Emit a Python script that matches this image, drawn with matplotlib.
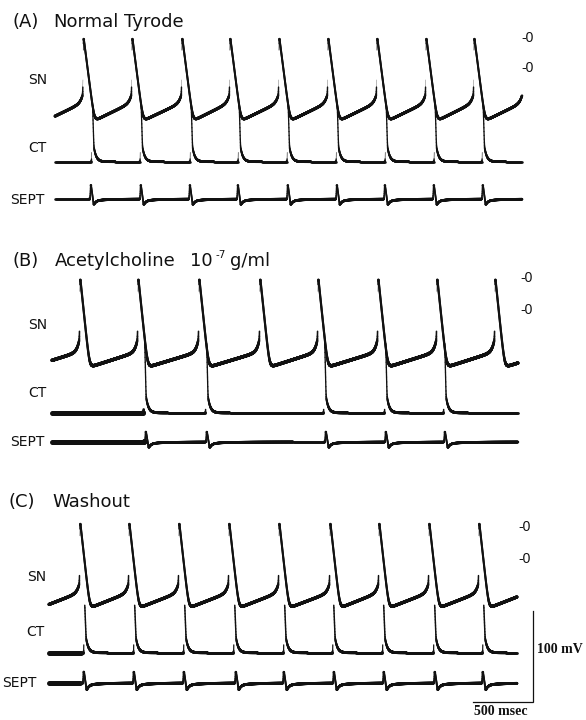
import numpy as np
import matplotlib
matplotlib.use("Agg")
import matplotlib.pyplot as plt
from matplotlib.collections import LineCollection

# ---------------- data (times in ms, potentials in mV) ----------------
PANEL_LETTERS = ["(A)", "(B)", "(C)"]
PANEL_TITLES = ["Normal Tyrode", "Acetylcholine 10 g/ml", "Washout"]
TRACE_NAMES = ["SN", "CT", "SEPT"]

A_SN_PEAKS = [236, 642, 1058, 1458, 1867, 2275, 2683, 3092, 3492]
A_CT_UPSTROKES = [307, 712, 1129, 1529, 1937, 2346, 2754, 3162, 3562]
A_SEPT_SPIKES = [292, 708, 1117, 1517, 1933, 2342, 2742, 3150, 3558]

B_SN_PEAKS = [208, 692, 1200, 1708, 2192, 2692, 3183, 3667]
B_CT_UPSTROKES = [742, 1258, 2242, 2750, 3242]
B_SEPT_SPIKES = [750, 1258, 2250, 2750, 3242]

C_SN_PEAKS = [208, 617, 1033, 1450, 1867, 2292, 2700, 3117, 3533]
C_CT_UPSTROKES = [242, 658, 1075, 1492, 1908, 2317, 2733, 3158, 3567]
C_SEPT_SPIKES = [233, 650, 1067, 1500, 1900, 2317, 2733, 3158, 3558]

TRACE_START_MS = [0, -25, -50]
TRACE_END_MS = [3892, 3858, 3850]

SN_PEAK_MV = [3, 3, 8]
SN_MDP_MV = [-91, -98, -89]
SN_KNEE_MV = [-71, -81, -72]
SN_TAKEOFF_MV = [-61, -66, -61]
SN_REPOL_MS = [92, 80, 82]

CT_REST_MV = [-103, -113, -103]
CT_PEAK_MV = [5, 5, 5]
CT_VISIBLE_FROM = [0.62, 0.70, 0.52]   # fraction of amplitude where the trace becomes visible

SEPT_UP_MV = [17.6, 13.0, 14.3]
SEPT_DOWN_MV = [6.6, 6.6, 8.0]

SCALE_MS = 500
SCALE_MV = 100

# ---------------- layout (pixels of a 586 x 720 canvas) ----------------
W, H = 586, 720
MS_PER_PX = 500 / 60.0
PX_PER_MV = 0.91
X0_PX = 55
SN_ZERO_PX = [38, 278, 527]
CT_ZERO_PX = [68, 310, 559]
SEPT_BASE_PX = [199, 442, 683]
TITLE_BASE_PX = [27, 266, 507]
LETTER_X_PX = [12.5, 12, 8]
WORD_X_PX = [[53, 124], [55, 190, 230], [52]]
LABEL_Y_PX = [[80, 148, 200], [325, 393, 442], [577, 632, 683]]
LABEL_X_PX = [[28, 28, 10], [28, 28, 10], [27, 26, 2]]
ZERO_LABEL_X_PX = [521, 520, 518]
SN_LW = [3.0, 3.4, 3.2]
CT_LW = [2.6, 2.8, 2.8]
SEPT_LW = [2.6, 2.6, 2.8]
THICK_LW = 5.0
INK = "#111111"


def smooth(v, sigma=2.0):
    n = int(4 * sigma)
    k = np.exp(-0.5 * (np.arange(-n, n + 1) / sigma) ** 2)
    k /= k.sum()
    pad = np.concatenate([np.full(n, v[0]), v, np.full(n, v[-1])])
    return np.convolve(pad, k, mode="valid")


def sn_wave(t, peaks, vpk, mdp, vknee, vto, R, k=9.0, tau=20.0, U=3.0):
    period = np.mean(np.diff(peaks))
    pk = [peaks[0] - period] + list(peaks) + [peaks[-1] + period]
    v = np.full(t.shape, mdp, dtype=float)
    for a, b in zip(pk[:-1], pk[1:]):
        tto = b - U
        m = (t >= a) & (t < tto)
        s = t[m] - a
        rep = (vpk - mdp) * k * np.log1p(np.exp((R - s) / k)) / R
        lin = (vknee - mdp) * np.clip((s - R) / (tto - a - R), 0, 1)
        knee = (vto - vknee) * np.exp((s - (tto - a)) / tau)
        v[m] = mdp + rep + lin + knee
        m2 = (t >= tto) & (t < b)
        v[m2] = vto + (vpk - vto) * (t[m2] - tto) / U
    return v


def ct_wave(t, ups, vrest, vpk, hvis, Uh=5.0, Rc=12.0, hf=0.15, tauf=20.0):
    """Returns potential and a mask of the (photographically invisible) fast part."""
    h = np.zeros(t.shape)
    hidden = np.zeros(t.shape, dtype=bool)
    for u in ups:
        s = t - u
        m1 = (s >= 0) & (s < Uh)
        h[m1] += hvis
        hidden[(s >= -1) & (s < Uh + 1)] = True
        m2 = (s >= Uh) & (s < Uh + Rc)
        h[m2] += hvis - (hvis - hf) * (s[m2] - Uh) / Rc
        m3 = s >= Uh + Rc
        h[m3] += hf * np.exp(-(s[m3] - Uh - Rc) / tauf)
    return vrest + (vpk - vrest) * h, hidden


def sept_wave(t, spikes, up, dn, Us=6.0, d1=25.0, tau1=18.0, tau2=150.0, frac=0.75):
    v = np.zeros(t.shape)
    for sp in spikes:
        s = t - sp
        m1 = (s >= 0) & (s < Us)
        v[m1] += up * s[m1] / Us
        m2 = (s >= Us) & (s < Us + d1)
        v[m2] += up - (up + dn) * (s[m2] - Us) / d1
        m3 = s >= Us + d1
        x = s[m3] - Us - d1
        v[m3] += -dn * (frac * np.exp(-x / tau1) + (1 - frac) * np.exp(-x / tau2))
    return v


def draw_trace(ax, t, v, y0, lw0, thick_until=None, hidden=None):
    xpx = t / MS_PER_PX
    ypx = v * PX_PER_MV
    speed = np.hypot(np.diff(xpx), np.diff(ypx)) / np.diff(t)
    r = speed * MS_PER_PX
    base = np.full(len(r), lw0)
    if thick_until is not None:
        base[t[:-1] < thick_until] = THICK_LW
    w = base * r ** -0.2 * np.clip((65 - r) / 20.0, 0, 1)
    if hidden is not None:
        w[hidden[:-1] | hidden[1:]] = 0
    pts = np.column_stack([t, y0 + v])
    segs = np.stack([pts[:-1], pts[1:]], axis=1)
    keep = w > 0.05
    lc = LineCollection(segs[keep], linewidths=w[keep] * 0.72, colors=INK,
                        capstyle="round", joinstyle="round")
    ax.add_collection(lc)


def px_y(p):
    return -p / PX_PER_MV


fig = plt.figure(figsize=(W / 100, H / 100), dpi=100)
ax = fig.add_axes([0, 0, 1, 1])
ax.set_xlim(-X0_PX * MS_PER_PX, (W - X0_PX) * MS_PER_PX)
ax.set_ylim(px_y(H), 0)
ax.axis("off")

sn_peaks = [A_SN_PEAKS, B_SN_PEAKS, C_SN_PEAKS]
ct_ups = [A_CT_UPSTROKES, B_CT_UPSTROKES, C_CT_UPSTROKES]
sept_spk = [A_SEPT_SPIKES, B_SEPT_SPIKES, C_SEPT_SPIKES]
thick_ct = [None, B_CT_UPSTROKES[0], C_CT_UPSTROKES[0] - 25]
thick_sept = [None, B_SEPT_SPIKES[0], C_SEPT_SPIKES[0] - 25]

title_font = dict(fontsize=13, family="DejaVu Sans", va="baseline", color=INK)

for i in range(3):
    t = np.arange(TRACE_START_MS[i], TRACE_END_MS[i] + 0.5, 1.0)
    v_sn = smooth(sn_wave(t, sn_peaks[i], SN_PEAK_MV[i], SN_MDP_MV[i], SN_KNEE_MV[i],
                          SN_TAKEOFF_MV[i], SN_REPOL_MS[i]))
    v_ct, hid = ct_wave(t, ct_ups[i], CT_REST_MV[i], CT_PEAK_MV[i], CT_VISIBLE_FROM[i])
    v_ct = smooth(v_ct, 1.5)
    v_se = smooth(sept_wave(t, sept_spk[i], SEPT_UP_MV[i], SEPT_DOWN_MV[i]))
    draw_trace(ax, t, v_sn, px_y(SN_ZERO_PX[i]), SN_LW[i])
    draw_trace(ax, t, v_ct, px_y(CT_ZERO_PX[i]), CT_LW[i], thick_ct[i], hid)
    draw_trace(ax, t, v_se, px_y(SEPT_BASE_PX[i]), SEPT_LW[i], thick_sept[i])

    # titles
    yb = 1 - TITLE_BASE_PX[i] / H
    fig.text(LETTER_X_PX[i] / W, yb, PANEL_LETTERS[i], **title_font)
    words = PANEL_TITLES[i].split()
    for wx, word in zip(WORD_X_PX[i], words):
        fig.text(wx / W, yb, word, **title_font)
    # trace labels
    for j, name in enumerate(TRACE_NAMES):
        fig.text(LABEL_X_PX[i][j] / W, 1 - LABEL_Y_PX[i][j] / H, name,
                 fontsize=10, family="DejaVu Sans", va="center", color=INK)
    # zero markers
    for zp in (SN_ZERO_PX[i], CT_ZERO_PX[i]):
        fig.text(ZERO_LABEL_X_PX[i] / W, 1 - zp / H, "-0", fontsize=10,
                 family="Liberation Sans", va="center", color=INK)

# exponent of the acetylcholine concentration
fig.text(215 / W, 1 - 258 / H, "-7", fontsize=7.5, family="DejaVu Sans",
         va="baseline", color=INK)

# scale bar
x_end = (533 - X0_PX) * MS_PER_PX
y_bot = px_y(702)
ax.plot([x_end - SCALE_MS, x_end, x_end], [y_bot, y_bot, y_bot + SCALE_MV],
        color=INK, lw=0.9, solid_joinstyle="miter")
fig.text(537 / W, 1 - 653 / H, f"{SCALE_MV} mV", fontsize=10, family="Liberation Serif",
         weight="bold", va="baseline", color=INK)
fig.text(474 / W, 1 - 715 / H, f"{SCALE_MS} msec", fontsize=10, family="Liberation Serif",
         weight="bold", va="baseline", color=INK)

fig.savefig("out.png", dpi=100, facecolor="white")
